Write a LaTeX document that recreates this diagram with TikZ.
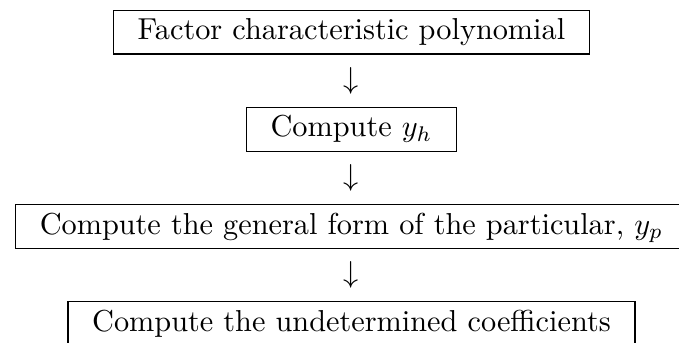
\documentclass[tikz,border=0pt]{standalone}
\usepackage{tikz}
\usetikzlibrary{positioning}

\begin{document}
\begin{tikzpicture}[node distance=3.95pt]
  \tikzset{stepbox/.style={draw,inner xsep=8pt,inner ysep=2.8pt,
      text height=6.94pt,text depth=1.94pt},
    downglyph/.style={inner sep=0pt}}
  \useasboundingbox (-116pt,0pt) rectangle (108.1pt,-113.2pt);

  \node[stepbox] (poly) at (0,-10.6pt) {Factor characteristic polynomial};
  \node[downglyph,below=of poly] (a1) {$\downarrow$};
  \node[stepbox,below=of a1] (yh) {Compute $y_h$};
  \node[downglyph,below=of yh] (a2) {$\downarrow$};
  \node[stepbox,below=of a2] (yp) {Compute the general form of the particular, $y_p$};
  \node[downglyph,below=of yp] (a3) {$\downarrow$};
  \node[stepbox,below=of a3] (coef) {Compute the undetermined coefficients};
\end{tikzpicture}
\end{document}
